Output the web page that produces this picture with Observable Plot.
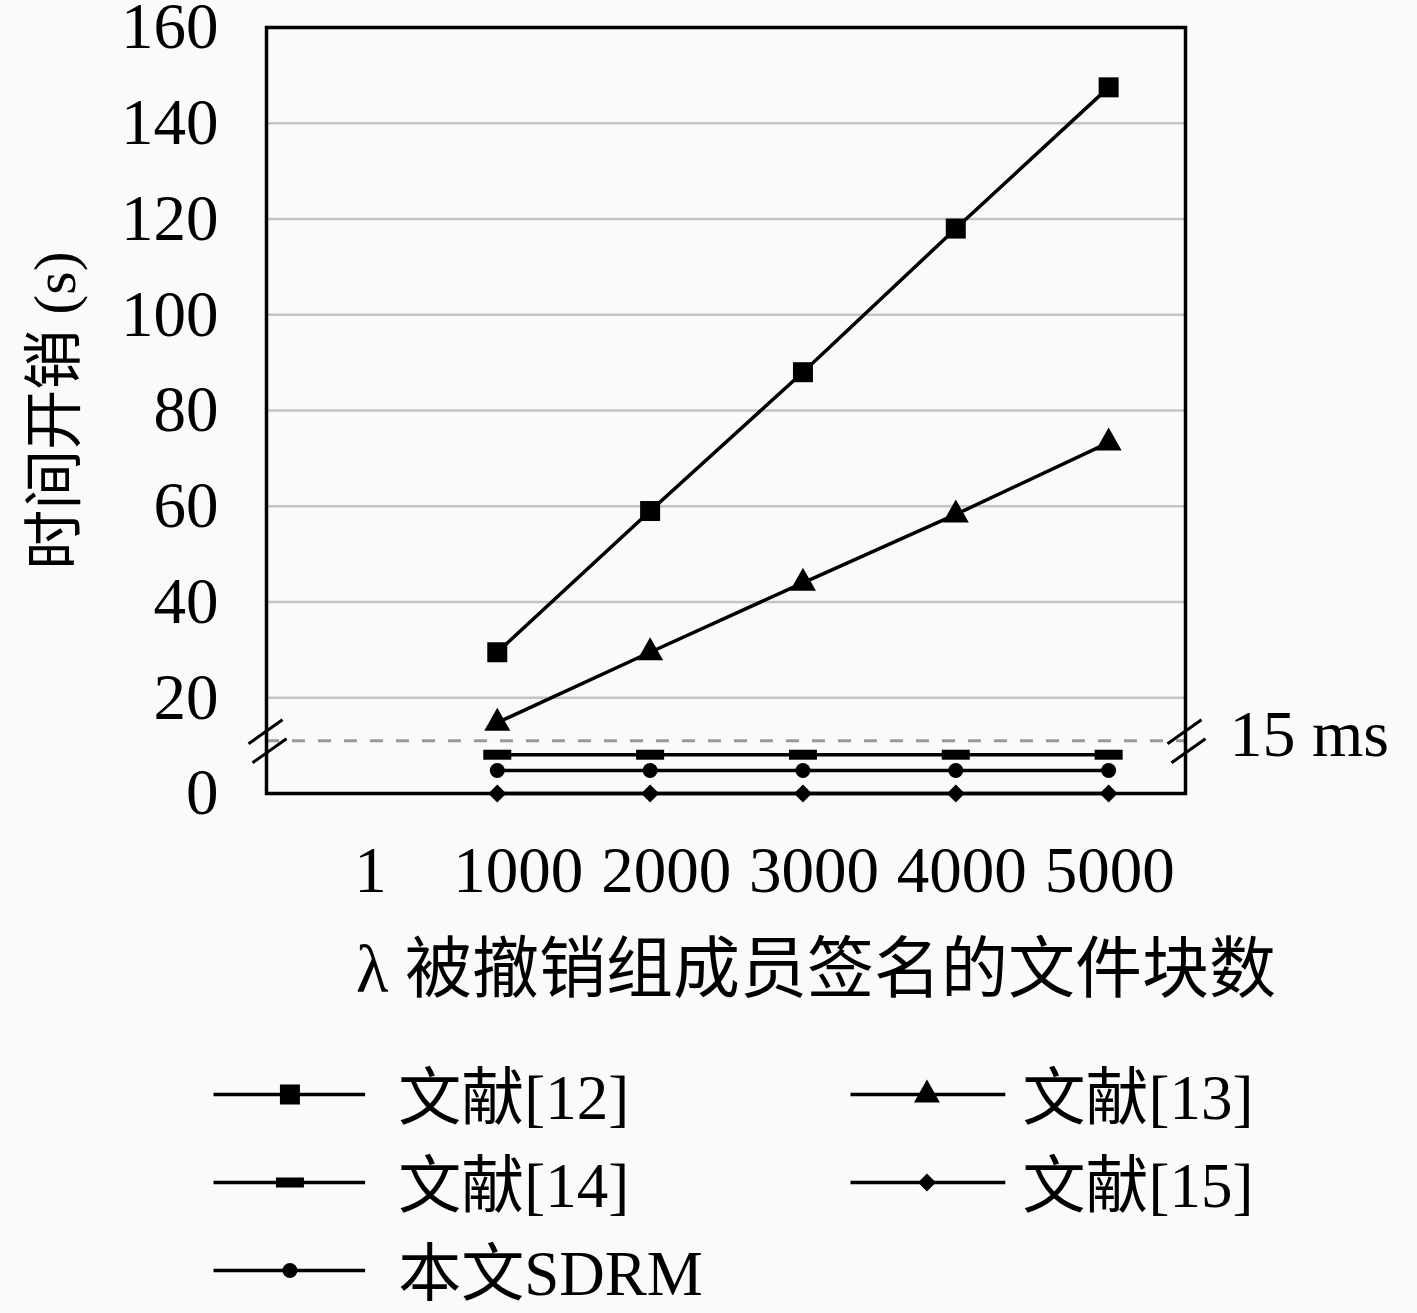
<!DOCTYPE html>
<html>
<head>
<meta charset="utf-8">
<script src="https://cdn.jsdelivr.net/npm/d3@7"></script>
<script src="https://cdn.jsdelivr.net/npm/@observablehq/plot@0.6"></script>
<style>
  html, body { margin: 0; padding: 0; background: #fafafa; }
  #chart svg { display: block; background: #fafafa; }
</style>
</head>
<body>
<div id="chart"></div>
<script>
// ---- data ----
const xValues = [1000, 2000, 3000, 4000, 5000];
const xTickPos = [170, 1137, 2105, 3072, 4039, 5007];
const xTickLabels = ["1", "1000", "2000", "3000", "4000", "5000"];
const yTicks = [0, 20, 40, 60, 80, 100, 120, 140, 160];
const gridTicks = [20, 40, 60, 80, 100, 120, 140];
const seriesNames = ["文献[12]", "文献[13]", "文献[14]", "文献[15]", "本文SDRM"];
const ref12 = [29.5, 59, 88, 118, 147.5];
const ref13 = [14.8, 29.5, 44, 58.3, 73.3];
// below the axis break (drawn positions, sub-15ms region)
const ref14 = [8.1, 8.1, 8.1, 8.1, 8.1];
const ref15 = [0, 0, 0, 0, 0];
const sdrm = [4.8, 4.8, 4.8, 4.8, 4.8];
const breakY = 11;
const breakLabel = "15 ms";
const yLabel = "时间开销 (s)";
const xLabel = "λ 被撤销组成员签名的文件块数";
const xDomain = [-510, 5503];

const seriesValues = [ref12, ref13, ref14, ref15, sdrm];

// ---- symbols ----
const symSquare = {draw(c) { c.rect(-10, -10, 20, 20); }};
const symTriangle = {draw(c) { c.moveTo(0, -15); c.lineTo(13, 8); c.lineTo(-13, 8); c.closePath(); }};
const symBar = {draw(c) { c.rect(-14, -5, 28, 10); }};
const symDiamond = {draw(c) { c.moveTo(0, -9); c.lineTo(9, 0); c.lineTo(0, 9); c.lineTo(-9, 0); c.closePath(); }};
const symCircle = {draw(c) { c.moveTo(7.5, 0); c.arc(0, 0, 7.5, 0, 2 * Math.PI); }};
const symBreak = {draw(c) {
  c.moveTo(-18, 3); c.lineTo(16, -21);
  c.moveTo(-14, 22); c.lineTo(20, -2);
}};
const seriesSymbols = [symSquare, symTriangle, symBar, symDiamond, symCircle];

const series = seriesNames.map((name, i) => ({
  name, symbol: seriesSymbols[i],
  points: xValues.map((x, j) => ({x, y: seriesValues[i][j]}))
}));

const FONT = '"Liberation Serif", "Noto Sans CJK SC", serif';

const marks = [
  Plot.gridY(gridTicks, {stroke: "#c4c4c4", strokeOpacity: 1, strokeWidth: 2.5}),
  Plot.ruleY([breakY], {stroke: "#999", strokeWidth: 3, strokeDasharray: "13,13"}),
  Plot.axisY(yTicks, {tickSize: 0, tickPadding: 48, fontSize: 65, label: null}),
  Plot.axisX(xTickPos, {tickSize: 0, tickPadding: 52, fontSize: 65, label: null,
    tickFormat: (d) => xTickLabels[xTickPos.indexOf(d)]}),
  Plot.frame({stroke: "black", strokeWidth: 3.5}),
];
for (const s of series) {
  marks.push(Plot.line(s.points, {x: "x", y: "y", stroke: "black", strokeWidth: 3.5}));
  marks.push(Plot.dot(s.points, {x: "x", y: "y", symbol: s.symbol, fill: "black", stroke: "none", r: 5}));
}
marks.push(
  Plot.dot([xDomain[0], xDomain[1]], {x: (d) => d, y: () => breakY, symbol: symBreak, stroke: "black", strokeWidth: 3, fill: "none", r: 5}),
  Plot.text([breakLabel], {x: () => xDomain[1], y: () => breakY, text: (d) => d, dx: 44, dy: -6, textAnchor: "start", fontSize: 66}),
  Plot.text([yLabel], {frameAnchor: "left", text: (d) => d, rotate: -90, textAnchor: "middle", dx: -211, dy: 0, fontSize: 60}),
  Plot.text([xLabel], {frameAnchor: "bottom", text: (d) => d, dx: 90, dy: 177, fontSize: 67, lineAnchor: "middle"})
);

const main = Plot.plot({
  width: 1417,
  height: 1030,
  marginLeft: 266,
  marginRight: 232,
  marginTop: 27,
  marginBottom: 237,
  style: {fontFamily: FONT, color: "black", background: "#fafafa", overflow: "visible"},
  x: {domain: xDomain, axis: null},
  y: {domain: [0, 160], axis: null},
  marks
});

// ---- legend ----
const legendItems = series.map((s, i) => ({name: s.name, symbol: s.symbol, col: i % 2, row: Math.floor(i / 2)}));
const legendMarks = [
  Plot.link(legendItems, {x1: (d) => d.col, x2: (d) => d.col + 0.238 + 0.005 * d.col, y1: "row", y2: "row", stroke: "black", strokeWidth: 3.5})
];
for (const it of legendItems) {
  legendMarks.push(Plot.dot([it], {x: (d) => d.col + 0.12, y: "row", symbol: it.symbol, fill: "black", stroke: "none", r: 5}));
}
legendMarks.push(Plot.text(legendItems, {x: (d) => d.col + 0.29 - 0.02 * d.col, y: "row", text: "name", textAnchor: "start", lineAnchor: "middle", fontSize: 63, dy: 4}));

const legend = Plot.plot({
  width: 1417,
  height: 283,
  marginLeft: 213,
  marginRight: 567,
  marginTop: 63,
  marginBottom: 43,
  style: {fontFamily: FONT, color: "black", background: "#fafafa", overflow: "visible"},
  x: {domain: [0, 1], axis: null},
  y: {type: "point", domain: [0, 1, 2], padding: 0, axis: null},
  marks: legendMarks
});

const el = document.getElementById("chart");
el.appendChild(main);
el.appendChild(legend);
</script>
</body>
</html>
